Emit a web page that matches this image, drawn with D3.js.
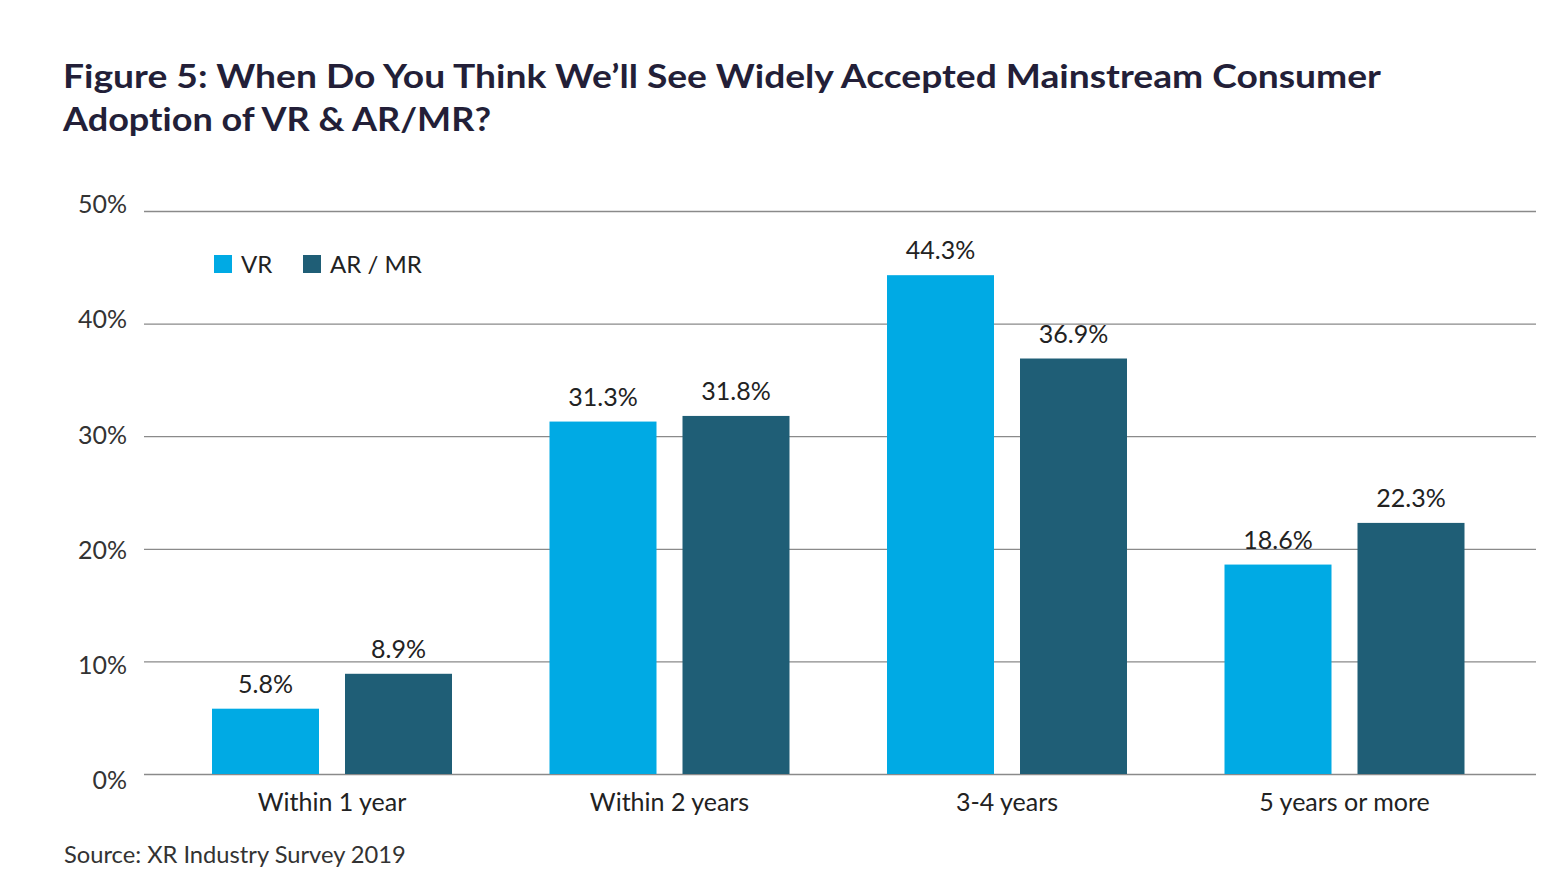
<!DOCTYPE html>
<html><head><meta charset="utf-8">
<script src="https://cdn.jsdelivr.net/npm/d3@7"></script>
<style>
body{margin:0;background:#fff;}
text{font-family:Lato, "Open Sans", sans-serif;font-variant-ligatures:none;font-feature-settings:"liga" 0;}
</style></head>
<body>
<svg id="chart" width="1562" height="886"></svg>
<script>
const categories = ["Within 1 year","Within 2 years","3-4 years","5 years or more"];
const seriesNames = ["VR","AR / MR"];
const vrValues = [5.8, 31.3, 44.3, 18.6];
const armrValues = [8.9, 31.8, 36.9, 22.3];
const yTicks = [0,10,20,30,40,50];
const colors = ["#00aae4","#1f5e76"];

const svg = d3.select("#chart");
const y = d3.scaleLinear().domain([0,50]).range([774,211]);
const yLabel = d3.scaleLinear().domain([0,50]).range([780,204]);
const x0 = d3.scaleBand().domain(categories).range([163.25,1513.25]).paddingInner(97.5/337.5).paddingOuter(97.5/337.5/2);
const x1 = d3.scaleBand().domain(seriesNames).range([0,x0.bandwidth()]).paddingInner(26/133);

// title
const title = svg.append("g").attr("fill","#231f38").attr("font-weight",700).attr("font-size",33);
title.append("text").attr("x",63).attr("y",88).attr("textLength",1318).attr("lengthAdjust","spacingAndGlyphs")
  .text("Figure 5: When Do You Think We’ll See Widely Accepted Mainstream Consumer");
title.append("text").attr("x",63).attr("y",131).attr("textLength",428).attr("lengthAdjust","spacingAndGlyphs")
  .text("Adoption of VR & AR/MR?");

// grid + y labels
const yAxis = d3.axisLeft(y).tickValues(yTicks).tickSize(-(1536-144)).tickFormat(d=>d+"%");
const gy = svg.append("g").attr("transform","translate(144,0)").call(yAxis);
gy.select(".domain").remove();
gy.selectAll(".tick line").attr("stroke","#8a8a8a").attr("stroke-width",1.3);
gy.selectAll(".tick text").attr("x",-17).attr("y",d=>yLabel(d)-y(d)).attr("dy","0.35em").attr("font-size",25).attr("fill","#333")
  .attr("font-family","Lato, sans-serif").attr("font-weight",400);

// bars
const data = categories.map((c,i)=>({cat:c, vals:[{s:seriesNames[0],v:vrValues[i]},{s:seriesNames[1],v:armrValues[i]}]}));
const groups = svg.append("g").selectAll("g").data(data).join("g")
  .attr("transform",d=>`translate(${x0(d.cat)},0)`);
groups.selectAll("rect").data(d=>d.vals).join("rect")
  .attr("x",d=>x1(d.s)).attr("width",x1.bandwidth())
  .attr("y",d=>y(d.v)).attr("height",d=>y(0)-y(d.v))
  .attr("fill",(d,i)=>colors[i]);
groups.selectAll("text.val").data(d=>d.vals).join("text").attr("class","val")
  .attr("x",d=>x1(d.s)+x1.bandwidth()/2).attr("y",d=>y(d.v)-16)
  .attr("text-anchor","middle").attr("font-size",25).attr("fill","#222")
  .text(d=>d.v.toFixed(1)+"%");

// x axis labels
const xAxis = d3.axisBottom(x0).tickSize(0);
const gx = svg.append("g").attr("transform","translate(0,774)").call(xAxis);
gx.select(".domain").remove();
gx.selectAll(".tick text").attr("y",19).attr("dy","0.71em").attr("font-size",25).attr("fill","#222")
  .attr("font-family","Lato, sans-serif");

// legend
const legendX = [214,303];
const lg = svg.append("g");
seriesNames.forEach((s,i)=>{
  lg.append("rect").attr("x",legendX[i]).attr("y",255).attr("width",18).attr("height",18).attr("fill",colors[i]);
  lg.append("text").attr("x",legendX[i]+27).attr("y",273).attr("font-size",24).attr("fill","#222").text(s);
});

// source
svg.append("text").attr("x",64).attr("y",863).attr("font-size",23.7).attr("fill","#333").text("Source: XR Industry Survey 2019");
</script>
</body></html>
